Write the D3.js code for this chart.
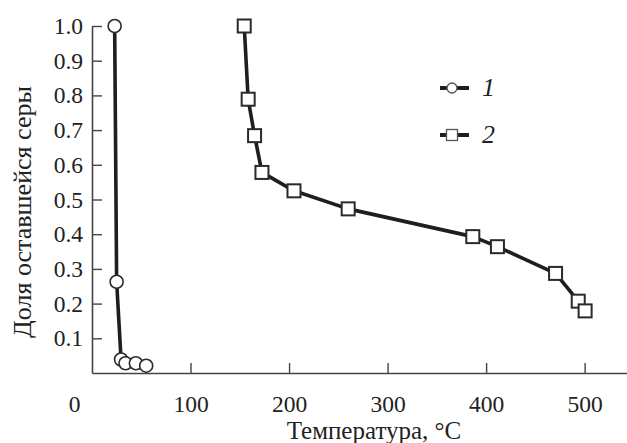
<!DOCTYPE html>
<html>
<head>
<meta charset="utf-8">
<script src="https://cdn.jsdelivr.net/npm/d3@7"></script>
<style>
  body { margin: 0; background: #fff; }
  svg text { font-family: 'Liberation Serif', 'Times New Roman', Times, serif; }
</style>
</head>
<body>
<svg id="chart"></svg>
<script>
const width = 627;
const height = 443;

// data
const temp1 = [23, 25, 29.5, 34, 44.5, 55];
const frac1 = [1.0, 0.263, 0.039, 0.028, 0.028, 0.021];

const temp2 = [154.5, 158.5, 165, 172.5, 205, 260, 386.5, 411.5, 470.5, 493.5, 500.5];
const frac2 = [1.0, 0.789, 0.684, 0.578, 0.525, 0.473, 0.393, 0.364, 0.287, 0.207, 0.179];

const xTicks = [0, 100, 200, 300, 400, 500];
const yTicks = [0.1, 0.2, 0.3, 0.4, 0.5, 0.6, 0.7, 0.8, 0.9, 1.0];
const seriesNames = ["1", "2"];

const fontStack = "'Liberation Serif', 'Times New Roman', Times, serif";

const svg = d3.select("svg#chart")
  .attr("width", width)
  .attr("height", height)
  .style("font-family", fontStack);

const margin = { top: 26, bottom: 70, left: 92, right: 0 };

const x = d3.scaleLinear()
  .domain([0, 543])
  .range([margin.left, width - margin.right]);

const y = d3.scaleLinear()
  .domain([0, 1])
  .range([height - margin.bottom, margin.top]);

const axisColor = "#444";
const textColor = "#222";

// x axis
let xAxis = svg.append("g")
  .attr("transform", "translate(0," + y(0) + ")")
  .call(d3.axisBottom(x).tickValues(xTicks).tickSizeInner(-10).tickSizeOuter(0).tickPadding(22));
xAxis.attr("font-family", fontStack).attr("font-size", 23.5);
xAxis.select(".domain").attr("stroke", axisColor).attr("stroke-width", 1.6);
xAxis.selectAll(".tick line").attr("stroke", axisColor).attr("stroke-width", 1.4);
xAxis.selectAll(".tick").filter(d => d == 0).select("line").remove();
xAxis.selectAll(".tick text")
  .attr("fill", textColor)
  .attr("x", d => d == 0 ? -18 : 0);

// y axis
let yAxis = svg.append("g")
  .attr("transform", "translate(" + x(0) + ",0)")
  .call(d3.axisLeft(y).tickValues(yTicks).tickFormat(d3.format(".1f")).tickSizeInner(-10).tickSizeOuter(0).tickPadding(9));
yAxis.attr("font-family", fontStack).attr("font-size", 23.5);
yAxis.select(".domain").attr("stroke", axisColor).attr("stroke-width", 1.6);
yAxis.selectAll(".tick line").attr("stroke", axisColor).attr("stroke-width", 1.4);
yAxis.selectAll(".tick text")
  .attr("fill", textColor);

// axis titles
svg.append("text")
  .text("Температура, °C")
  .attr("x", 374)
  .attr("y", 438.5)
  .attr("text-anchor", "middle")
  .attr("fill", textColor)
  .style("font-size", "25px");

svg.append("g")
  .attr("transform", "translate(31," + 212 + ")")
  .append("text")
  .text("Доля оставшейся серы")
  .attr("text-anchor", "middle")
  .attr("transform", "rotate(-90)")
  .attr("fill", textColor)
  .style("font-size", "26px");

// lines
const line = d3.line()
  .x(d => x(d[0]))
  .y(d => y(d[1]));

const pts1 = temp1.map((t, i) => [t, frac1[i]]);
const pts2 = temp2.map((t, i) => [t, frac2[i]]);

const lineColor = "#1e1e1e";

svg.append("path")
  .datum(pts1)
  .attr("d", line)
  .attr("fill", "none")
  .attr("stroke", lineColor)
  .attr("stroke-width", 3.6)
  .attr("stroke-linejoin", "round");

svg.append("path")
  .datum(pts2)
  .attr("d", line)
  .attr("fill", "none")
  .attr("stroke", lineColor)
  .attr("stroke-width", 3.6)
  .attr("stroke-linejoin", "round");

// markers
svg.append("g").selectAll("circle")
  .data(pts1)
  .enter()
  .append("circle")
  .attr("cx", d => x(d[0]))
  .attr("cy", d => y(d[1]))
  .attr("r", 6.5)
  .attr("fill", "#fff")
  .attr("stroke", "#2a2a2a")
  .attr("stroke-width", 1.6);

const sq = 13;
svg.append("g").selectAll("rect")
  .data(pts2)
  .enter()
  .append("rect")
  .attr("x", d => x(d[0]) - sq / 2)
  .attr("y", d => y(d[1]) - sq / 2)
  .attr("width", sq)
  .attr("height", sq)
  .attr("fill", "#fff")
  .attr("stroke", "#2a2a2a")
  .attr("stroke-width", 2);

// legend
let legend = svg.append("g").attr("transform", "translate(440,88)");
seriesNames.forEach(function(name, i) {
  let row = legend.append("g").attr("transform", "translate(0," + (i * 47) + ")");
  row.append("line")
    .attr("x1", 0).attr("x2", 29)
    .attr("y1", 0).attr("y2", 0)
    .attr("stroke", lineColor)
    .attr("stroke-width", 4);
  if (i == 0) {
    row.append("circle")
      .attr("cx", 12).attr("cy", 0).attr("r", 5)
      .attr("fill", "#fff").attr("stroke", "#555").attr("stroke-width", 1.3);
  } else {
    row.append("rect")
      .attr("x", 6.5).attr("y", -5.5).attr("width", 11).attr("height", 11)
      .attr("fill", "#fff").attr("stroke", "#555").attr("stroke-width", 1.3);
  }
  row.append("text")
    .text(name)
    .attr("x", 42)
    .attr("y", 7.5)
    .attr("fill", textColor)
    .style("font-size", "26px")
    .style("font-style", "italic");
});
</script>
</body>
</html>
